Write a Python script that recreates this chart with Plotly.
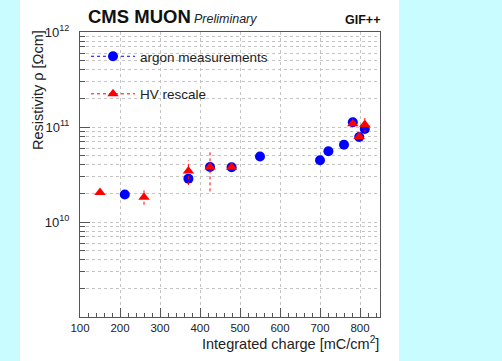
import plotly.graph_objects as go

# ---- data ----
argon_x = [212, 371, 425, 479, 550, 700, 721, 760, 782, 798, 812]
argon_y = [1.95e10, 2.86e10, 3.8e10, 3.77e10, 4.9e10, 4.47e10, 5.55e10, 6.5e10, 1.12e11, 7.85e10, 9.55e10]

hv_x = [150, 260, 371, 425, 479, 782, 798, 812]
hv_y = [2.05e10, 1.82e10, 3.45e10, 3.8e10, 3.77e10, 1.08e11, 7.95e10, 1.06e11]
hv_err_up = [0, 0.33e10, 1.0e10, 1.75e10, 0, 0, 0, 1.8e10]
hv_err_down = [0, 0.30e10, 1.0e10, 1.70e10, 0, 0, 0, 1.8e10]

y_major = [1e10, 1e11, 1e12]
y_major_text = ["10<sup>10</sup>", "10<sup>11</sup>", "10<sup>12</sup>"]
x_ticks = [100, 200, 300, 400, 500, 600, 700, 800]

FONT = "Liberation Sans, Arial, Helvetica, sans-serif"
W, H = 502, 361
ML, MR, MT, MB = 80, 122, 32, 44

y_minor = [m * 10 ** e for e in (9, 10, 11) for m in range(2, 10)]

# error bar segments built from the error arrays
eb_x, eb_y = [], []
for x, y, up, dn in zip(hv_x, hv_y, hv_err_up, hv_err_down):
    if up > 0 or dn > 0:
        eb_x += [x, x, None]
        eb_y += [y - dn, y + up, None]

fig = go.Figure()
fig.add_trace(go.Scatter(x=argon_x, y=argon_y, mode="markers",
                         marker=dict(color="#0000ff", size=10, symbol="circle"),
                         showlegend=False))
fig.add_trace(go.Scatter(x=eb_x, y=eb_y, mode="lines",
                         line=dict(color="#ff0000", width=1, dash="dot"),
                         showlegend=False, hoverinfo="skip"))
fig.add_trace(go.Scatter(x=hv_x, y=hv_y, mode="markers",
                         marker=dict(color="#ff0000", size=10, symbol="triangle-up"),
                         showlegend=False))
# legend entries
fig.add_trace(go.Scatter(x=[None], y=[None], mode="lines+markers", name="argon measurements",
                         legendgroup="a",
                         marker=dict(color="#0000ff", size=10, symbol="circle"),
                         line=dict(color="#0000ff", width=1, dash="dot")))
fig.add_trace(go.Scatter(x=[None], y=[None], mode="lines+markers", name="HV rescale",
                         legendgroup="b",
                         marker=dict(color="#ff0000", size=10, symbol="triangle-up"),
                         line=dict(color="#ff0000", width=1, dash="dot")))

pw = W - ML - MR
ph = H - MT - MB

def px2x(px):
    return (px - ML) / pw

def py2y(py):
    return (H - MB - py) / ph

fig.update_layout(
    width=W, height=H,
    margin=dict(l=ML, r=MR, t=MT, b=MB),
    paper_bgcolor="#c8fcff",
    plot_bgcolor="white",
    font=dict(family=FONT, color="#222222"),
    legend=dict(x=px2x(86), y=py2y(41), xanchor="left", yanchor="top",
                bgcolor="rgba(0,0,0,0)", font=dict(size=13.5, family=FONT, color="#222222"),
                tracegroupgap=17, itemwidth=44),
    shapes=[dict(type="rect", xref="paper", yref="paper",
                 x0=px2x(20), x1=px2x(399), y0=py2y(H + 2), y1=py2y(-2),
                 fillcolor="white", line=dict(width=0), layer="below")],
    annotations=[
        dict(text="<b>CMS MUON</b>", x=px2x(86), y=py2y(29), xref="paper", yref="paper",
             xanchor="left", yanchor="bottom", showarrow=False,
             font=dict(size=18.5, family=FONT, color="#111111")),
        dict(text="<i>Preliminary</i>", x=px2x(192), y=py2y(28), xref="paper", yref="paper",
             xanchor="left", yanchor="bottom", showarrow=False,
             font=dict(size=12.5, family=FONT, color="#222222")),
        dict(text="<b>GIF++</b>", x=px2x(382), y=py2y(29), xref="paper", yref="paper",
             xanchor="right", yanchor="bottom", showarrow=False,
             font=dict(size=12.5, family=FONT, color="#111111")),
        dict(text="Resistivity ρ [Ωcm]", x=px2x(38), y=py2y(28), xref="paper", yref="paper",
             xanchor="center", yanchor="top", textangle=-90, showarrow=False,
             font=dict(size=14.5, family=FONT, color="#222222")),
        dict(text="Integrated charge [mC/cm<sup>2</sup>]", x=px2x(381), y=py2y(354),
             xref="paper", yref="paper", xanchor="right", yanchor="bottom", showarrow=False,
             font=dict(size=14.5, family=FONT, color="#222222")),
    ],
)

fig.update_xaxes(
    range=[100, 850], tickvals=x_ticks, ticks="inside", ticklen=9, tickcolor="#555555",
    tickfont=dict(size=11.5, family=FONT, color="#222222"),
    showline=True, linecolor="#555555", linewidth=1, mirror=True,
    showgrid=True, gridcolor="#c4c4c4", griddash="dot", gridwidth=1,
    zeroline=False,
    minor=dict(dtick=20, ticks="inside", ticklen=4, tickcolor="#555555", showgrid=False),
)
fig.update_yaxes(
    type="log", range=[9, 12], tickvals=y_major, ticktext=y_major_text,
    ticks="inside", ticklen=10, tickcolor="#555555", ticklabelstandoff=7,
    tickfont=dict(size=13, family=FONT, color="#222222"),
    showline=True, linecolor="#555555", linewidth=1, mirror=True,
    showgrid=True, gridcolor="#c4c4c4", griddash="dot", gridwidth=1,
    zeroline=False,
    minor=dict(tickvals=y_minor, ticks="inside", ticklen=5, tickcolor="#555555",
               showgrid=True, gridcolor="#c4c4c4", griddash="dot", gridwidth=1),
)

fig.write_html("out.html")
